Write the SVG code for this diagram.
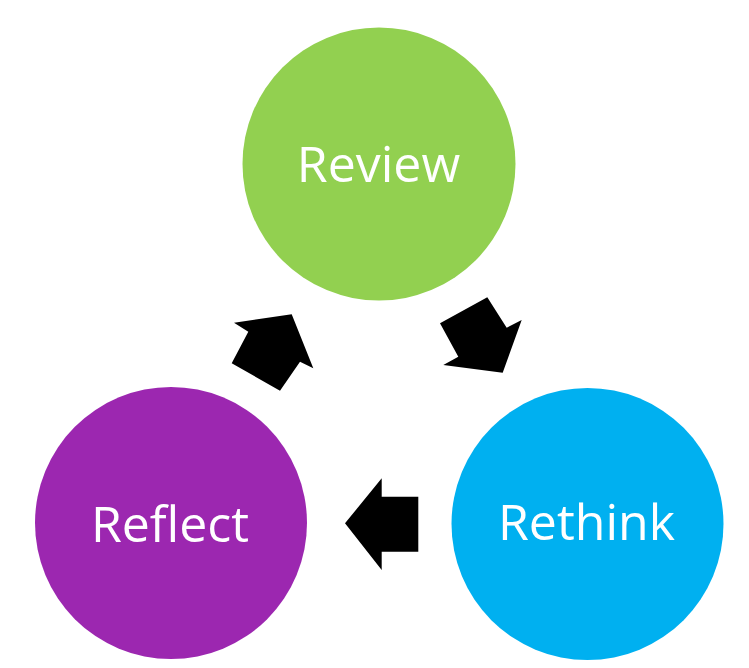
<svg xmlns="http://www.w3.org/2000/svg" width="749" height="668" viewBox="0 0 749 668">
<style>
.lbl{font-family:"Open Sans","Noto Sans","Liberation Sans",sans-serif;font-size:50px;fill:#ffffff;text-anchor:middle}
.arr{fill:#000000}
</style>
<rect width="749" height="668" fill="#ffffff"/>
<g id="review">
<circle cx="379" cy="164" r="136.5" fill="#92D050"/>
<text class="lbl" x="378.5" y="182">Review</text>
</g>
<g id="rethink">
<circle cx="587.5" cy="524" r="136" fill="#00B0F0"/>
<text class="lbl" x="586.5" y="540">Rethink</text>
</g>
<g id="reflect">
<circle cx="171" cy="523" r="136" fill="#9C27B0"/>
<text class="lbl" x="170" y="542">Reflect</text>
</g>
<g id="connectors">
<polygon class="arr" points="291.7,314.3 313.3,368.3 300,361.7 280,390.7 231.7,363.3 248.3,331.7 234,322.7"/>
<polygon class="arr" points="502.7,372.7 443.3,365 458.3,356.7 440,323.3 487.3,297.3 506.7,327.7 521.7,320"/>
<polygon class="arr" points="345,523.3 381.7,478.3 381.7,496.7 418.3,496.7 418.3,551.7 381.7,551.7 381.7,570"/>
</g>
</svg>
